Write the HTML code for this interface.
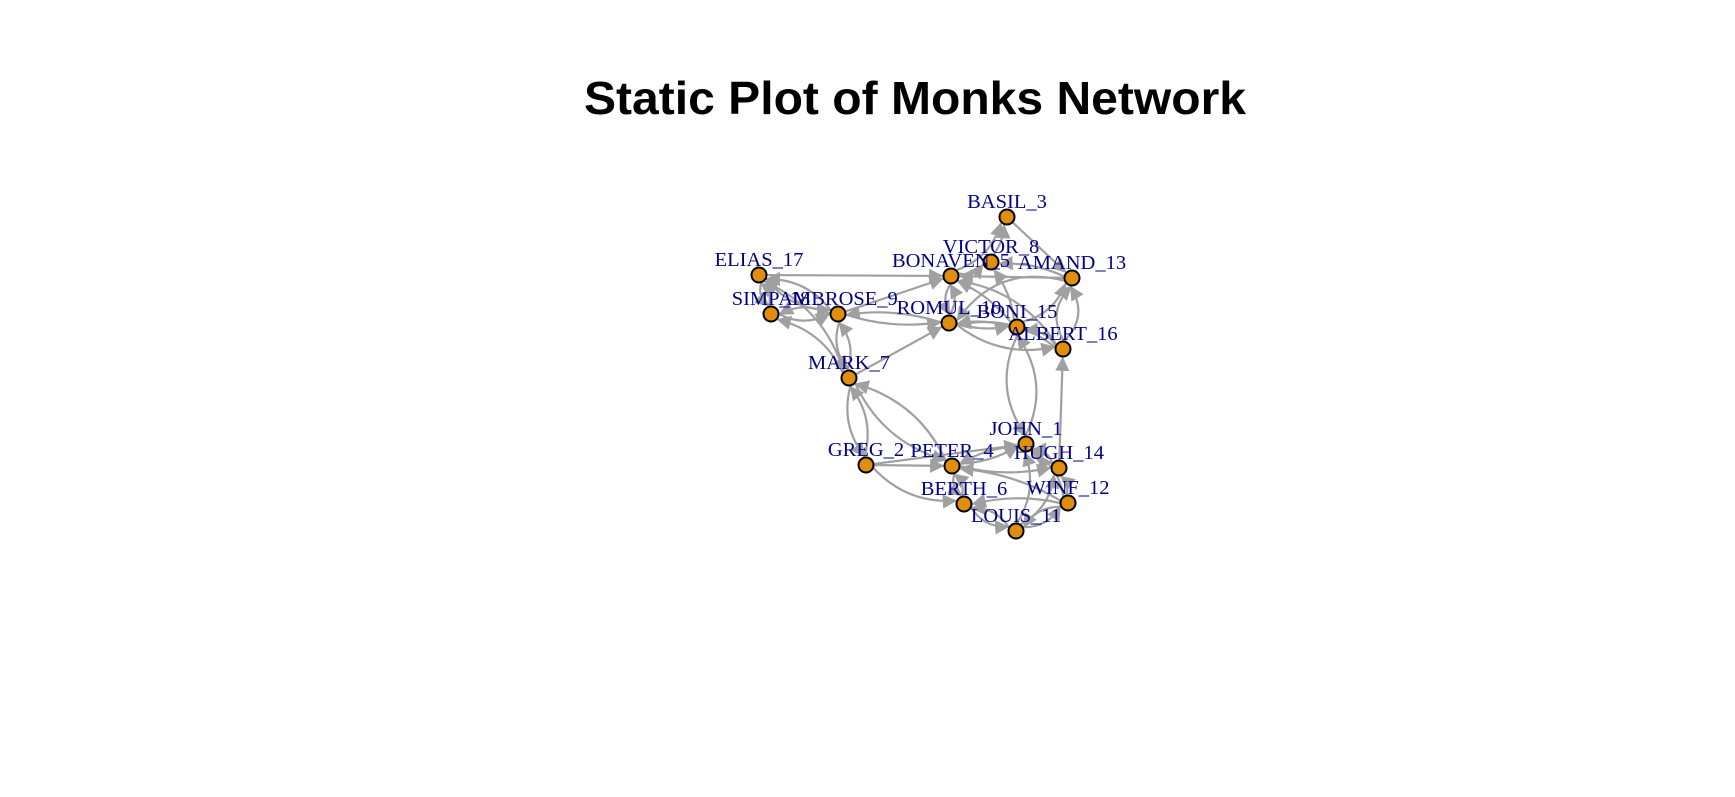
<!DOCTYPE html>
<html><head><meta charset="utf-8"><style>body{margin:0;background:#fff}svg{display:block}</style></head><body>
<svg width="1735" height="797" xmlns="http://www.w3.org/2000/svg">
<defs><marker id="a" viewBox="0 0 10 10" refX="9" refY="5" markerWidth="6.5" markerHeight="6.5" orient="auto"><path d="M0,0L10,5L0,10z" fill="#a0a0a0"/></marker></defs>
<text x="915" y="114" font-family="Liberation Sans, sans-serif" font-weight="bold" font-size="46" text-anchor="middle" textLength="662" lengthAdjust="spacingAndGlyphs">Static Plot of Monks Network</text>
<g id="e" fill="none" stroke="#a0a0a0" stroke-width="2.2" marker-end="url(#a)"></g>
<g id="n"></g>
<script>
var N={JOHN_1:[1026,444],GREG_2:[866,465],BASIL_3:[1007,217],PETER_4:[952,466],BONAVEN_5:[951,276],BERTH_6:[964,504],MARK_7:[849,378],VICTOR_8:[991,262],AMBROSE_9:[838,314],ROMUL_10:[949,323],LOUIS_11:[1016,531],WINF_12:[1068,503],AMAND_13:[1072,278],HUGH_14:[1059,468],BONI_15:[1017,327],ALBERT_16:[1063,349],ELIAS_17:[759,275],SIMP_18:[771,314]};
var E=[["ELIAS_17","BONAVEN_5",0],["ELIAS_17","SIMP_18",.2],["SIMP_18","ELIAS_17",.2],["ELIAS_17","AMBROSE_9",.2],["AMBROSE_9","ELIAS_17",.2],["SIMP_18","AMBROSE_9",.2],["AMBROSE_9","SIMP_18",.2],["AMBROSE_9","BONAVEN_5",0],["ROMUL_10","AMBROSE_9",.1],["AMBROSE_9","ROMUL_10",.1],["MARK_7","SIMP_18",.2],["MARK_7","ELIAS_17",.2],["MARK_7","AMBROSE_9",.2],["AMBROSE_9","MARK_7",.2],["MARK_7","ROMUL_10",0],["GREG_2","MARK_7",.2],["MARK_7","GREG_2",.2],["PETER_4","MARK_7",.2],["MARK_7","PETER_4",.2],["GREG_2","PETER_4",0],["GREG_2","BERTH_6",.2],["GREG_2","JOHN_1",0],["PETER_4","JOHN_1",.1],["JOHN_1","PETER_4",.1],["BERTH_6","PETER_4",.2],["PETER_4","BERTH_6",.2],["LOUIS_11","BERTH_6",.2],["BERTH_6","LOUIS_11",.2],["WINF_12","BERTH_6",.1],["WINF_12","LOUIS_11",.2],["LOUIS_11","WINF_12",.2],["HUGH_14","JOHN_1",.2],["JOHN_1","HUGH_14",.2],["LOUIS_11","JOHN_1",.2],["WINF_12","JOHN_1",.2],["WINF_12","HUGH_14",.2],["LOUIS_11","HUGH_14",.2],["PETER_4","HUGH_14",.1],["WINF_12","PETER_4",.1],["JOHN_1","BONI_15",.25],["BONI_15","JOHN_1",.25],["HUGH_14","ALBERT_16",0],["ALBERT_16","AMAND_13",.3],["BONI_15","AMAND_13",.2],["AMAND_13","BONAVEN_5",0],["AMAND_13","VICTOR_8",.1],["BASIL_3","AMAND_13",0],["BONAVEN_5","BASIL_3",.2],["VICTOR_8","BASIL_3",.1],["AMAND_13","ROMUL_10",.3],["ROMUL_10","BONAVEN_5",.2],["BONAVEN_5","ROMUL_10",.2],["BONI_15","ROMUL_10",.1],["ROMUL_10","BONI_15",.1],["ALBERT_16","ROMUL_10",.2],["ROMUL_10","ALBERT_16",.2],["BONI_15","BONAVEN_5",.1],["ALBERT_16","BONAVEN_5",.2],["BONI_15","VICTOR_8",.1],["ALBERT_16","BONI_15",.2],["BONAVEN_5","VICTOR_8",.2],["ALBERT_16","AMAND_13",-.3]];
var ns="http://www.w3.org/2000/svg",eg=document.getElementById("e"),ng=document.getElementById("n");
E.forEach(function(e){var p=N[e[0]],q=N[e[1]],dx=q[0]-p[0],dy=q[1]-p[1],L=Math.hypot(dx,dy),ux=dx/L,uy=dy/L;
var sx=p[0]+ux*8,sy=p[1]+uy*8,tx=q[0]-ux*9,ty=q[1]-uy*9,mx=(sx+tx)/2-uy*L*e[2],my=(sy+ty)/2+ux*L*e[2];
var pa=document.createElementNS(ns,"path");pa.setAttribute("d","M"+sx+","+sy+"Q"+mx+","+my+" "+tx+","+ty);eg.appendChild(pa);});
for(var k in N){var c=document.createElementNS(ns,"circle");c.setAttribute("cx",N[k][0]);c.setAttribute("cy",N[k][1]);c.setAttribute("r",7.5);c.setAttribute("fill","#e08e0b");c.setAttribute("stroke","#000");c.setAttribute("stroke-width","2");ng.appendChild(c);}
for(var k in N){var t=document.createElementNS(ns,"text");t.setAttribute("x",N[k][0]);t.setAttribute("y",N[k][1]-9);t.setAttribute("text-anchor","middle");t.setAttribute("font-family","Liberation Serif, serif");t.setAttribute("font-size","20.5");t.setAttribute("fill","#00008b");t.textContent=k;ng.appendChild(t);}
</script>
</svg>
</body></html>
